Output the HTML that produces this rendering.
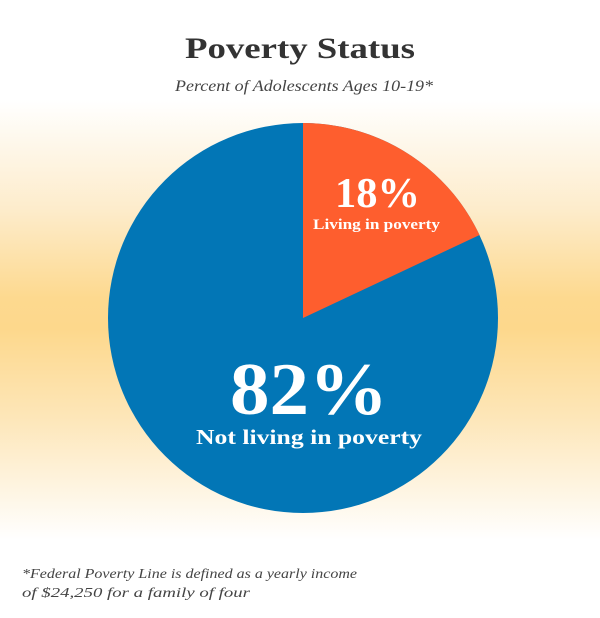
<!DOCTYPE html>
<html><head><style>
body{margin:0;width:600px;height:618px;overflow:hidden;background:#fff;position:relative;font-family:"Liberation Serif",serif}
.bg{position:absolute;left:0;top:100px;width:600px;height:440px;background:linear-gradient(#fff 0%,#fdeccb 25%,#fdd98f 45%,#fdd88c 52%,#fde6b8 72%,#fff 100%)}
svg{position:absolute;left:0;top:0}
</style></head><body>
<div class="bg"></div>
<svg width="600" height="618" viewBox="0 0 600 618">
<text x="185" y="58" textLength="230" lengthAdjust="spacingAndGlyphs" font-weight="bold" font-size="30" fill="#333">Poverty Status</text>
<text x="175" y="91" textLength="258" lengthAdjust="spacingAndGlyphs" font-style="italic" font-size="16" fill="#444">Percent of Adolescents Ages 10-19*</text>
<circle cx="303" cy="318" r="195" fill="#0276b6"/>
<path d="M303 318 L303 123 A195 195 0 0 1 479.5 235 Z" fill="#fe5e2e"/>
<text x="335" y="207" textLength="85" lengthAdjust="spacingAndGlyphs" font-weight="bold" font-size="42" fill="#fff">18%</text>
<text x="313" y="229" textLength="127" lengthAdjust="spacingAndGlyphs" font-weight="bold" font-size="15" fill="#fff">Living in poverty</text>
<text x="230" y="414" textLength="158" lengthAdjust="spacingAndGlyphs" font-weight="bold" font-size="74" fill="#fff">82%</text>
<text x="196" y="444" textLength="226" lengthAdjust="spacingAndGlyphs" font-weight="bold" font-size="21" fill="#fff">Not living in poverty</text>
<text x="22" y="578" textLength="335" lengthAdjust="spacingAndGlyphs" font-style="italic" font-size="14" fill="#444">*Federal Poverty Line is defined as a yearly income</text>
<text x="22" y="597" textLength="228" lengthAdjust="spacingAndGlyphs" font-style="italic" font-size="14" fill="#444">of $24,250 for a family of four</text>
</svg>
</body></html>
